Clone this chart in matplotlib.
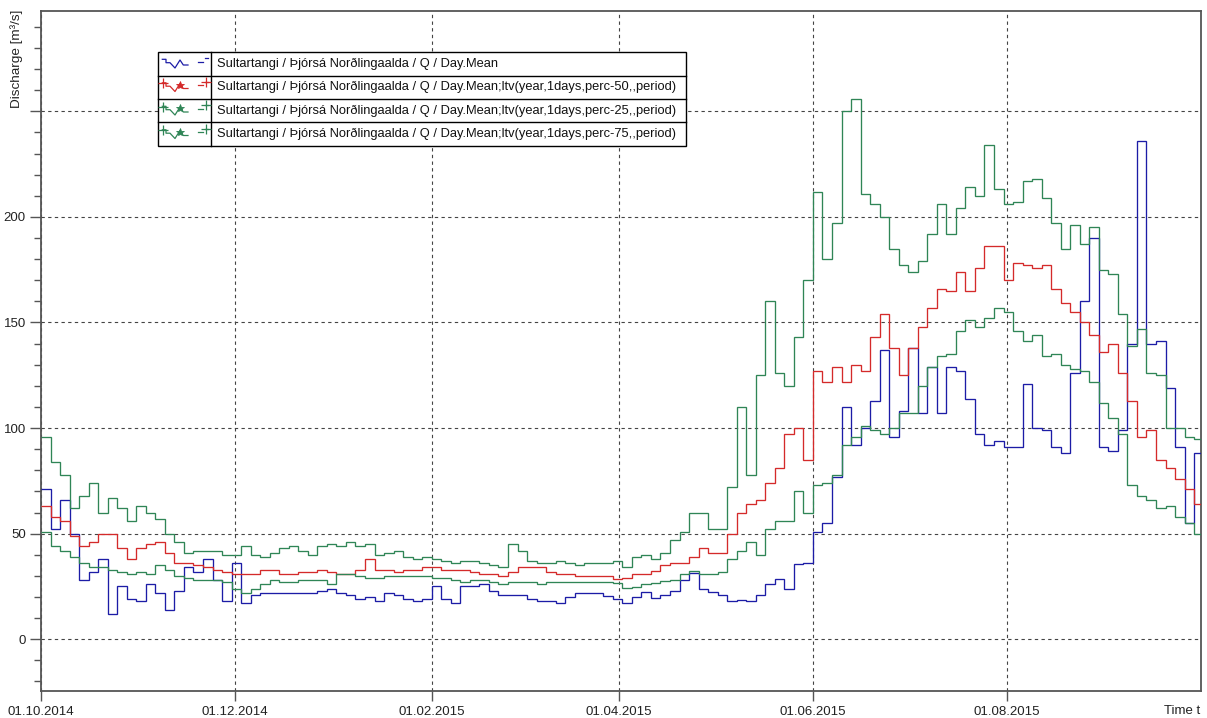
"""
Discharge at Sultartangi / Þjórsá Norðlingaalda, hydrological year 2014/15,
daily mean against long term percentiles.
"""

import pandas as pd
import matplotlib
matplotlib.use("Agg")
import matplotlib.pyplot as plt
import matplotlib.dates as mdates
from matplotlib.ticker import MultipleLocator, FuncFormatter
from matplotlib.patches import Rectangle
from matplotlib.lines import Line2D

plt.rcParams['font.family'] = ['Liberation Sans', 'DejaVu Sans']

# series sampled every 3 days from 01.10.2014 [m3/s]
start = "2014-10-01"
step = "3D"

q_mean = [71, 52, 66, 50, 28, 32, 38, 12, 25, 19, 18, 26, 22, 14, 23, 34, 32, 38, 28, 18, 36, 17, 21, 22,
          22, 22, 22, 22, 22, 23, 24, 22, 21, 19, 20, 18, 22, 21, 19, 18, 19, 25, 19, 17, 25, 25, 26, 23,
          21, 21, 21, 19, 18, 18,
          17, 20, 22, 22, 22, 20.5, 19, 17.4, 20, 22.4, 19.4, 21, 23, 28, 31.5, 24, 22.4, 21, 18, 18.6, 18, 21,
          26, 28.5, 24, 35.6, 36, 51, 55, 77, 110, 92, 100, 113, 137, 96, 108, 138, 107, 129, 107, 129,
          127, 114, 97, 92,
          94, 91, 91, 121, 100, 99, 91, 88, 126, 160, 190, 91, 89, 99, 140, 236, 140, 141, 119, 91, 55, 88]

q_p50 = [63, 58, 56, 49, 44, 46, 50, 50, 43, 38, 43, 45, 46, 41, 36, 36, 35, 34, 33, 32, 31, 31, 31, 33,
         33, 31, 31, 32, 32, 33, 32, 31, 31, 33, 38, 33, 33, 32, 33, 33, 34, 34, 33, 33, 33, 32, 31, 31,
         30, 32, 34, 34, 34, 32,
         31, 31, 30, 30, 30, 30, 28.5, 29, 31, 31, 32.5, 35, 36, 36, 39, 43, 41, 41, 50, 60, 64, 66,
         74, 81, 97, 100, 85, 127, 122, 129, 122, 130, 127, 143, 154, 138, 125, 138, 148, 157, 166, 165,
         174, 165, 176, 186,
         186, 170, 178, 177, 176, 177, 166, 159, 155, 150, 144, 136, 140, 126, 113, 96, 99, 85, 81, 76, 71, 64]

q_p25 = [51, 44, 42, 39, 36, 34, 34, 33, 32, 31, 32, 31, 35, 33, 30, 29, 28, 28, 28, 27, 24, 22, 24, 26,
         28, 27, 27, 28, 28, 28, 26, 31, 31, 30, 29, 29, 30, 30, 30, 30, 30, 29, 29, 28, 27, 28, 28, 27,
         26, 27, 27, 27, 26, 27,
         27, 27, 27, 27, 27, 27, 26.5, 24.5, 24.6, 26, 26.5, 27.6, 28, 31, 32.5, 31, 31, 32, 38, 42, 46, 40,
         52, 56, 56, 70, 60, 73, 74, 78, 92, 96, 101, 99, 97, 100, 107, 107, 120, 129, 134, 135,
         146, 151, 148, 152,
         157, 155, 146, 141, 144, 134, 135, 130, 128, 127, 122, 112, 105, 97, 73, 68, 66, 62, 63, 58, 55, 50]

q_p75 = [96, 84, 78, 62, 68, 74, 60, 67, 62, 56, 63, 60, 57, 50, 46, 41, 42, 42, 42, 40, 40, 44, 40, 39,
         41, 43, 44, 42, 40, 44, 45, 44, 46, 44, 45, 40, 41, 42, 39, 38, 39, 38, 37, 36, 37, 37, 36, 35,
         34, 45, 42, 37, 36, 36,
         37, 36, 35, 36, 36, 36, 37, 34, 39, 40, 38, 41, 47, 51, 60, 60, 52, 52, 72, 110, 78, 125,
         160, 126, 120, 143, 170, 212, 180, 197, 250, 256, 211, 206, 200, 185, 177, 174, 179, 192, 206, 192,
         204, 214, 210, 234,
         213, 206, 207, 217, 218, 209, 197, 185, 196, 187, 195, 175, 173, 154, 139, 147, 126, 125, 100, 100, 96, 95]

labels = [
    "Sultartangi / Þjórsá Norðlingaalda / Q / Day.Mean",
    "Sultartangi / Þjórsá Norðlingaalda / Q / Day.Mean;ltv(year,1days,perc-50,,period)",
    "Sultartangi / Þjórsá Norðlingaalda / Q / Day.Mean;ltv(year,1days,perc-25,,period)",
    "Sultartangi / Þjórsá Norðlingaalda / Q / Day.Mean;ltv(year,1days,perc-75,,period)",
]
tick_dates = ["2014-10-01", "2014-12-01", "2015-02-01", "2015-04-01", "2015-06-01", "2015-08-01"]

c_blue = "#1c1ca6"
c_red = "#d42a2a"
c_green = "#2f8556"
colors = [c_blue, c_red, c_green, c_green]

W, H = 1207, 718
fig = plt.figure(figsize=(W / 100, H / 100), dpi=100)
ax = fig.add_axes([41 / W, 1 - 691 / H, (1200.5 - 41) / W, (691 - 11) / H])

edges = mdates.date2num(pd.date_range(start, periods=len(q_mean) + 1, freq=step))
for vals, col in zip([q_mean, q_p50, q_p25, q_p75], colors):
    ax.stairs(vals, edges, baseline=None, color=col, lw=0.95, zorder=3)

ax.set_xlim(mdates.date2num(pd.Timestamp("2014-10-01")), mdates.date2num(pd.Timestamp("2015-10-01")))
ax.set_ylim(-24.5, 297.5)

ax.set_xticks(mdates.date2num(pd.to_datetime(tick_dates)))
ax.xaxis.set_major_formatter(mdates.DateFormatter("%d.%m.%Y"))
ax.yaxis.set_major_locator(MultipleLocator(50))
ax.yaxis.set_minor_locator(MultipleLocator(10))
ax.yaxis.set_major_formatter(FuncFormatter(lambda v, p: "" if v > 200 else "%.0f" % v))

ax.grid(True, which="major", linestyle=(0, (3, 3)), color="#444444", lw=0.8, zorder=1)
for s in ax.spines.values():
    s.set_color("#555555")
    s.set_linewidth(1.3)
ax.tick_params(axis="y", which="major", length=8, width=1, color="#555555", pad=3,
               labelsize=9.5, labelcolor="#222222")
ax.tick_params(axis="y", which="minor", length=5, width=1, color="#555555")
ax.tick_params(axis="x", which="major", length=7, width=1, color="#555555", pad=4,
               labelsize=9.5, labelcolor="#222222")

fig.text(17 / W, 1 - 10 / H, "Discharge [m³/s]", rotation=90, ha="center", va="top",
         fontsize=9.7, color="#222222")
fig.text(1200 / W, 1 - 711 / H, "Time t", ha="right", va="center", fontsize=9.5, color="#222222")

# legend box drawn as a small table in pixel units
lx0, ly0, lx1, ly1 = 158, 52, 686, 146
lw_box, lh_box = lx1 - lx0, ly1 - ly0
leg = fig.add_axes([(lx0 - 2) / W, 1 - (ly1 + 2) / H, (lw_box + 4) / W, (lh_box + 4) / H], zorder=5)
leg.set_xlim(-2, lw_box + 2)
leg.set_ylim(lh_box + 2, -2)
leg.axis("off")
leg.add_patch(Rectangle((0, 0), lw_box, lh_box, facecolor="white", edgecolor="black", lw=1.0))
row_h = lh_box / 4
leg.plot([53, 53], [0, lh_box], color="black", lw=1.0)
sym_x = [4.3, 8, 8, 12, 17, 22, 25.3, 30]
sym_y = [7.3, 7.3, 10.7, 10.7, 16, 8, 13, 13]
for i, (lab, col) in enumerate(zip(labels, colors)):
    y0 = i * row_h
    if i > 0:
        leg.plot([0, lw_box], [y0, y0], color="black", lw=1.0)
    leg.add_line(Line2D(sym_x, [y0 + v for v in sym_y], color=col, lw=0.9))
    leg.plot([40.3, 45.3], [y0 + 9.7, y0 + 9.7], color=col, lw=0.9)
    leg.plot([46.5, 50.3], [y0 + 6.3, y0 + 6.3], color=col, lw=0.9)
    if i > 0:
        leg.plot([5, 48], [y0 + 7.5, y0 + 6.3], ls="none", marker="+", ms=7, mew=0.9, color=col)
        leg.plot([22], [y0 + 9], ls="none", marker="*", ms=6, mew=0.6, color=col)
    leg.text(59, y0 + row_h / 2, lab, ha="left", va="center", fontsize=9.3, color="#111111")

fig.savefig("out.png", dpi=100)
